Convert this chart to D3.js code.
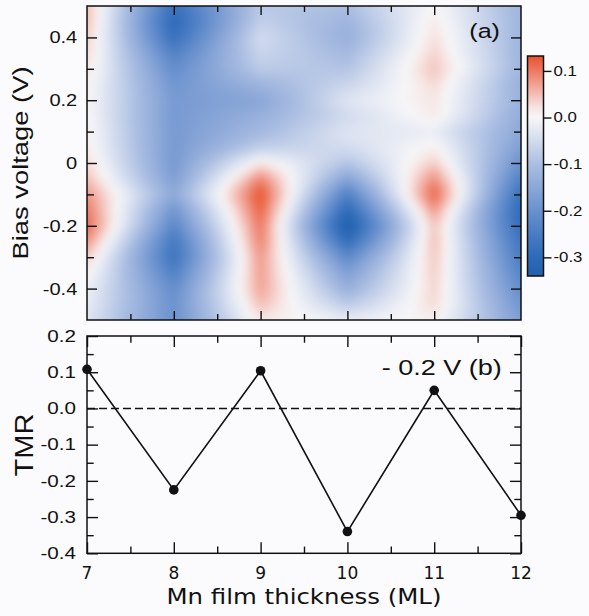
<!DOCTYPE html>
<html><head><meta charset="utf-8">
<script src="https://cdn.jsdelivr.net/npm/d3@7"></script>
<style>
html,body{margin:0;padding:0;background:#fbfbfd;}
svg{display:block;}
</style></head><body>
<svg id="chart" width="589" height="616"></svg>
<script>
// ---------- data ----------
const thickness = [7, 8, 9, 10, 11, 12];
const tmrAtMinus02 = [0.108, -0.225, 0.104, -0.34, 0.05, -0.295];

const biasGrid = [-0.5, -0.45, -0.4, -0.35, -0.3, -0.25, -0.2, -0.15, -0.1, -0.05, 0,
                  0.05, 0.1, 0.15, 0.2, 0.25, 0.3, 0.35, 0.4, 0.45, 0.5];
// TMR map columns (value at each bias in biasGrid)
const map7  = [-0.03, -0.02, -0.01, 0.01, 0.04, 0.08, 0.11, 0.10, 0.08, 0.05, 0.03,
               0.015, 0.01, 0.005, 0.005, 0.01, 0.02, 0.03, 0.04, 0.05, 0.05];
const map8  = [-0.2, -0.2, -0.21, -0.24, -0.27, -0.26, -0.225, -0.19, -0.15, -0.17, -0.18,
               -0.18, -0.18, -0.18, -0.18, -0.19, -0.21, -0.24, -0.28, -0.3, -0.28];
const map9  = [0.02, 0.05, 0.07, 0.075, 0.08, 0.095, 0.105, 0.12, 0.13, 0.09, 0.015,
               -0.07, -0.11, -0.13, -0.15, -0.12, -0.08, -0.06, -0.05, -0.07, -0.08];
const map10 = [-0.02, -0.08, -0.13, -0.17, -0.22, -0.29, -0.34, -0.3, -0.24, -0.16, -0.09,
               -0.05, -0.035, -0.05, -0.035, -0.06, -0.09, -0.11, -0.13, -0.12, -0.1];
const map11 = [0.01, 0.03, 0.035, 0.04, 0.045, 0.05, 0.05, 0.08, 0.115, 0.085, 0.04,
               0.01, -0.015, 0.015, 0.02, 0.03, 0.045, 0.035, 0.025, 0.015, 0.005];
const map12 = [-0.17, -0.19, -0.21, -0.23, -0.25, -0.27, -0.29, -0.3, -0.28, -0.24, -0.2,
               -0.17, -0.15, -0.14, -0.13, -0.13, -0.12, -0.12, -0.12, -0.12, -0.12];
const mapColumns = [map7, map8, map9, map10, map11, map12];

const topYTicks = [-0.4, -0.2, 0, 0.2, 0.4];
const topYTickLabels = ["-0.4", "-0.2", "0", "0.2", "0.4"];
const topYMinor = [-0.3, -0.1, 0.1, 0.3];
const xMajor = [7, 8, 9, 10, 11, 12];
const xMinor = [7.5, 8.5, 9.5, 10.5, 11.5];
const botYTicks = [-0.4, -0.3, -0.2, -0.1, 0, 0.1, 0.2];
const botYTickLabels = ["-0.4", "-0.3", "-0.2", "-0.1", "0.0", "0.1", "0.2"];
const botYMinor = [-0.35, -0.25, -0.15, -0.05, 0.05, 0.15];
const cbarTicks = [0.1, 0, -0.1, -0.2, -0.3];
const cbarTickLabels = ["0.1", "0.0", "-0.1", "-0.2", "-0.3"];
const colorStops  = [-0.34, -0.3, -0.25, -0.2, -0.15, -0.1, -0.05, 0, 0.02, 0.05, 0.1, 0.132];
const colorValues = ["#2160ae", "#2d6ab8", "#497cc3", "#6991ce", "#8ba7d8", "#abbee2", "#d2dbee",
                     "#f6f6f8", "#f6e6e4", "#f4bdb5", "#ed7a63", "#e8522a"];

// ---------- layout ----------
const svg = d3.select("#chart");
const L = 87, R = 521;
const topT = 6, topB = 320;
const botT = 336, botB = 553.3;
const cbL = 527.5, cbR = 543.5, cbT = 56, cbB = 276;
const SANS = "'Liberation Sans', Arial, Helvetica, sans-serif";
const SANS2 = "'DejaVu Sans', Verdana, sans-serif";

const x = d3.scaleLinear().domain([7, 12]).range([L, R]);
const yTop = d3.scaleLinear().domain([-0.5, 0.5]).range([topB, topT]);
const yBot = d3.scaleLinear().domain([-0.4, 0.2]).range([botB, botT]);
const yCb = d3.scaleLinear().domain([-0.34, 0.132]).range([cbB, cbT]);
const color = d3.scaleLinear().domain(colorStops).range(colorValues).interpolate(d3.interpolateRgb).clamp(true);

// ---------- heatmap (canvas image) ----------
function colValue(col, b) {
  const step = biasGrid[1] - biasGrid[0];
  const n = col.length;
  let u = (b - biasGrid[0]) / step;
  u = Math.max(0, Math.min(n - 1, u));
  let i = Math.floor(u); if (i >= n - 1) i = n - 2;
  const f = u - i;
  const g = k => col[Math.max(0, Math.min(n - 1, k))];
  const p0 = g(i - 1), p1 = g(i), p2 = g(i + 1), p3 = g(i + 2);
  return 0.5 * ((2 * p1) + (-p0 + p2) * f + (2 * p0 - 5 * p1 + 4 * p2 - p3) * f * f + (-p0 + 3 * p1 - 3 * p2 + p3) * f * f * f);
}
(function drawHeat() {
  const W = Math.round(R - L), H = Math.round(topB - topT), P = 16;
  const BW = W + 2 * P, BH = H + 2 * P;
  const big = document.createElement("canvas");
  big.width = BW; big.height = BH;
  const bctx = big.getContext("2d");
  const img = bctx.createImageData(BW, BH);
  const prof = mapColumns.map(col => {
    const a = new Float64Array(BH);
    for (let py = 0; py < BH; py++) {
      const yy = Math.max(topT, Math.min(topB, topT + py - P + 0.5));
      a[py] = colValue(col, yTop.invert(yy));
    }
    return a;
  });
  const vmin = colorStops[0], vmax = colorStops[colorStops.length - 1];
  const lut = [];
  for (let k = 0; k <= 1000; k++) {
    const c = d3.rgb(color(vmin + (vmax - vmin) * k / 1000)); lut.push([c.r, c.g, c.b]);
  }
  const tMin = thickness[0], tMax = thickness[thickness.length - 1];
  for (let px = 0; px < BW; px++) {
    const t = Math.max(tMin, Math.min(tMax, x.invert(L + px - P + 0.5)));
    let i = Math.floor(t - tMin); i = Math.max(0, Math.min(thickness.length - 2, i));
    const f = (t - thickness[i]) / (thickness[i + 1] - thickness[i]);
    for (let py = 0; py < BH; py++) {
      const v = (1 - f) * prof[i][py] + f * prof[i + 1][py];
      let k = Math.round((v - vmin) / (vmax - vmin) * 1000); k = Math.max(0, Math.min(1000, k));
      const c = lut[k];
      const o = (py * BW + px) * 4;
      img.data[o] = c[0]; img.data[o + 1] = c[1]; img.data[o + 2] = c[2]; img.data[o + 3] = 255;
    }
  }
  bctx.putImageData(img, 0, 0);
  const cv = document.createElement("canvas");
  cv.width = W; cv.height = H;
  const ctx = cv.getContext("2d");
  ctx.filter = "blur(4px)";
  ctx.drawImage(big, -P, -P);
  svg.append("image").attr("x", L).attr("y", topT).attr("width", W).attr("height", H)
    .attr("preserveAspectRatio", "none").attr("href", cv.toDataURL());
})();

// ---------- helpers ----------
function ticks(g, axisFn, scale, vals, len) {
  g.call(axisFn(scale).tickValues(vals).tickSizeInner(-len).tickSizeOuter(0).tickFormat(""))
    .call(s => s.select(".domain").remove())
    .call(s => s.selectAll("line").attr("stroke", "#111").attr("stroke-width", 1.4));
}
function stretch(sel, factor) {
  sel.each(function () {
    const w = this.getComputedTextLength();
    this.setAttribute("textLength", (w * factor).toFixed(2));
    this.setAttribute("lengthAdjust", "spacingAndGlyphs");
  });
}

// ---------- top panel axes ----------
const gt = svg.append("g");
ticks(gt.append("g").attr("transform", `translate(${L},0)`), d3.axisLeft, yTop, topYTicks, 10);
ticks(gt.append("g").attr("transform", `translate(${L},0)`), d3.axisLeft, yTop, topYMinor, 7);
ticks(gt.append("g").attr("transform", `translate(${R},0)`), d3.axisRight, yTop, topYTicks, 10);
ticks(gt.append("g").attr("transform", `translate(${R},0)`), d3.axisRight, yTop, topYMinor, 7);
ticks(gt.append("g").attr("transform", `translate(0,${topT})`), d3.axisTop, x, xMajor.slice(1, -1), 9);
ticks(gt.append("g").attr("transform", `translate(0,${topT})`), d3.axisTop, x, xMinor, 6);
ticks(gt.append("g").attr("transform", `translate(0,${topB})`), d3.axisBottom, x, xMajor.slice(1, -1), 9);
ticks(gt.append("g").attr("transform", `translate(0,${topB})`), d3.axisBottom, x, xMinor, 6);
gt.append("rect").attr("x", L).attr("y", topT).attr("width", R - L).attr("height", topB - topT)
  .attr("fill", "none").attr("stroke", "#111").attr("stroke-width", 1.5);

const topLab = gt.selectAll("text.tyl").data(topYTicks).enter().append("text")
  .attr("x", 77.3).attr("y", d => yTop(d)).attr("dy", "0.35em")
  .attr("text-anchor", "end").attr("font-family", SANS).attr("font-size", 17).attr("fill", "#111")
  .text((d, i) => topYTickLabels[i]);
stretch(topLab, 1.18);

gt.append("text")
  .attr("transform", `translate(27.5,${(topT + topB) / 2}) rotate(-90)`)
  .attr("text-anchor", "middle").attr("font-family", SANS).attr("font-size", 22).attr("fill", "#111")
  .attr("textLength", 193).attr("lengthAdjust", "spacingAndGlyphs")
  .text("Bias voltage (V)");

gt.append("text").attr("x", 469.3).attr("y", 38.4).attr("font-family", SANS).attr("font-size", 20.5)
  .attr("fill", "#111").attr("textLength", 30.7).attr("lengthAdjust", "spacingAndGlyphs").text("(a)");

// ---------- colorbar ----------
const grad = svg.append("defs").append("linearGradient").attr("id", "cbgrad")
  .attr("x1", 0).attr("y1", 1).attr("x2", 0).attr("y2", 0);
grad.selectAll("stop").data(colorStops).enter().append("stop")
  .attr("offset", d => (d - colorStops[0]) / (colorStops[colorStops.length - 1] - colorStops[0]))
  .attr("stop-color", d => color(d));
svg.append("rect").attr("x", cbL).attr("y", cbT).attr("width", cbR - cbL).attr("height", cbB - cbT)
  .attr("fill", "url(#cbgrad)").attr("stroke", "#111").attr("stroke-width", 1.5);
const gcb = svg.append("g").attr("transform", `translate(${cbR},0)`);
gcb.call(d3.axisRight(yCb).tickValues(cbarTicks).tickSizeInner(8).tickSizeOuter(0).tickFormat(""))
  .call(s => s.select(".domain").remove())
  .call(s => s.selectAll("line").attr("stroke", "#111").attr("stroke-width", 1.4));
const cbLab = svg.selectAll("text.cbl").data(cbarTicks).enter().append("text")
  .attr("x", 553.5).attr("y", d => yCb(d)).attr("dy", "0.35em")
  .attr("font-family", SANS).attr("font-size", 14).attr("fill", "#111")
  .text((d, i) => cbarTickLabels[i]);
stretch(cbLab, 1.2);

// ---------- bottom panel ----------
const gb = svg.append("g");
gb.append("line").attr("x1", L).attr("x2", R).attr("y1", yBot(0)).attr("y2", yBot(0))
  .attr("stroke", "#111").attr("stroke-width", 1.4).attr("stroke-dasharray", "8,4");
ticks(gb.append("g").attr("transform", `translate(${L},0)`), d3.axisLeft, yBot, botYTicks, 11);
ticks(gb.append("g").attr("transform", `translate(${L},0)`), d3.axisLeft, yBot, botYMinor, 6.7);
ticks(gb.append("g").attr("transform", `translate(${R},0)`), d3.axisRight, yBot, botYTicks, 11);
ticks(gb.append("g").attr("transform", `translate(${R},0)`), d3.axisRight, yBot, botYMinor, 6.7);
ticks(gb.append("g").attr("transform", `translate(0,${botT})`), d3.axisTop, x, xMajor, 11);
ticks(gb.append("g").attr("transform", `translate(0,${botT})`), d3.axisTop, x, xMinor, 6.7);
ticks(gb.append("g").attr("transform", `translate(0,${botB})`), d3.axisBottom, x, xMajor, 11);
ticks(gb.append("g").attr("transform", `translate(0,${botB})`), d3.axisBottom, x, xMinor, 6.7);
gb.append("rect").attr("x", L).attr("y", botT).attr("width", R - L).attr("height", botB - botT)
  .attr("fill", "none").attr("stroke", "#111").attr("stroke-width", 1.5);

const line = d3.line().x((d, i) => x(thickness[i])).y(d => yBot(d));
gb.append("path").datum(tmrAtMinus02).attr("d", line).attr("fill", "none")
  .attr("stroke", "#111").attr("stroke-width", 1.6);
gb.selectAll("circle").data(tmrAtMinus02).enter().append("circle")
  .attr("cx", (d, i) => x(thickness[i])).attr("cy", d => yBot(d)).attr("r", 4.8).attr("fill", "#111");

const botYLab = gb.selectAll("text.byl").data(botYTicks).enter().append("text")
  .attr("x", 76).attr("y", d => yBot(d)).attr("dy", "0.35em")
  .attr("text-anchor", "end").attr("font-family", SANS).attr("font-size", 16.5).attr("fill", "#111")
  .text((d, i) => botYTickLabels[i]);
stretch(botYLab, 1.25);

gb.selectAll("text.bxl").data(xMajor).enter().append("text")
  .attr("x", d => x(d)).attr("y", 579).attr("text-anchor", "middle")
  .attr("font-family", SANS2).attr("font-size", 17).attr("fill", "#111").text(d => d);

gb.append("text").attr("x", (L + R) / 2).attr("y", 604).attr("text-anchor", "middle")
  .attr("font-family", SANS2).attr("font-size", 21.5).attr("fill", "#111")
  .attr("textLength", 275).attr("lengthAdjust", "spacingAndGlyphs").text("Mn film thickness (ML)");

gb.append("text").attr("transform", `translate(33,445) rotate(-90)`).attr("text-anchor", "middle")
  .attr("font-family", SANS).attr("font-size", 25).attr("fill", "#111")
  .attr("textLength", 63).attr("lengthAdjust", "spacingAndGlyphs").text("TMR");

gb.append("text").attr("x", 381.7).attr("y", 375).attr("font-family", SANS).attr("font-size", 22)
  .attr("fill", "#111").attr("textLength", 120).attr("lengthAdjust", "spacingAndGlyphs").text("- 0.2 V (b)");
</script>
</body></html>
